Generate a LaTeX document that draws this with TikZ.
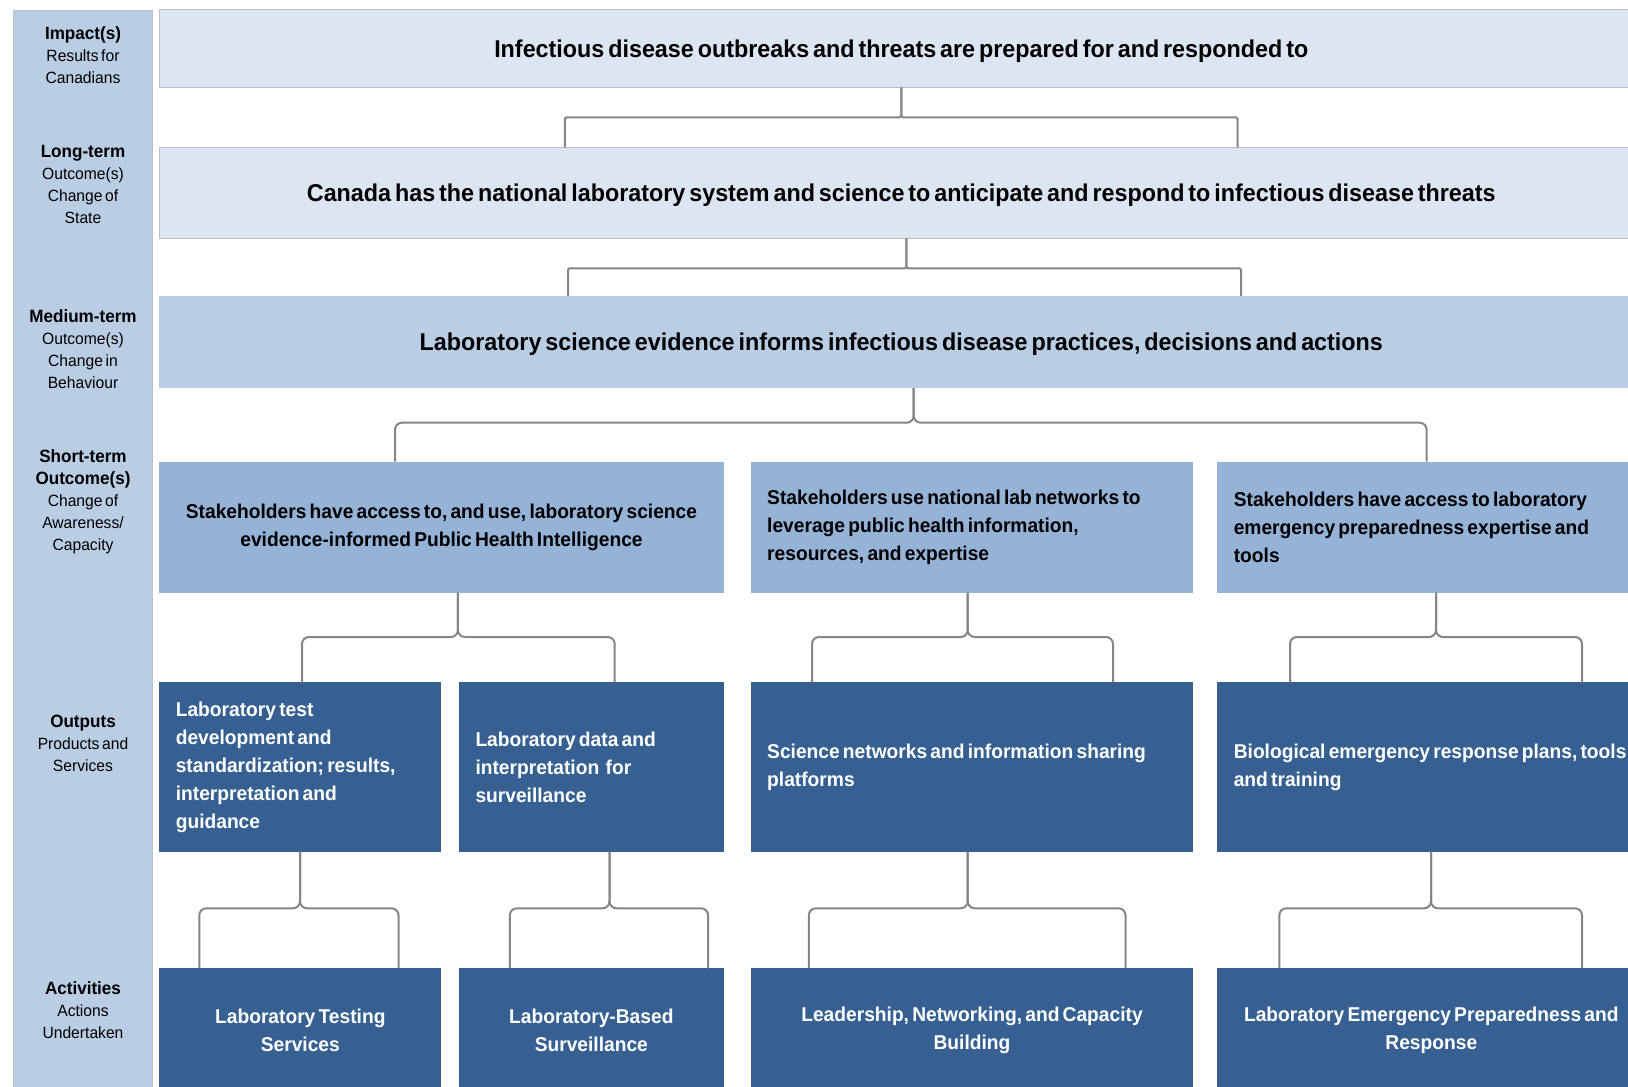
\documentclass[tikz,border=0pt]{standalone}
\usepackage{fontspec}
\setmainfont{Liberation Sans}[FakeStretch=0.96,WordSpace=0.6]
\usepackage{tikz}
\usetikzlibrary{calc}

\definecolor{paleblue}{HTML}{DCE6F2}
\definecolor{softblue}{HTML}{B9CDE5}
\definecolor{midblue}{HTML}{95B3D7}
\definecolor{deepblue}{HTML}{376092}
\definecolor{edgegray}{HTML}{BFBFBF}
\definecolor{linkgray}{HTML}{858585}

\newcommand{\hd}[1]{{\fontsize{17.8}{24}\selectfont\bfseries #1}}
% bracket from one box to two feet below it
\newcommand{\fork}[8]{%
  \draw[link,rounded corners=#8pt] (#2,0 |- #1.south) -- (#2,#3) -- (#5,#3) -- (#5,0 |- #4.north);
  \draw[link,rounded corners=#8pt] (#2,0 |- #1.south) -- (#2,#3) -- (#7,#3) -- (#7,0 |- #6.north);}

\begin{document}
\begin{tikzpicture}[x=1pt,y=-1pt,
  tier/.style={rectangle,anchor=north west,inner sep=0pt,outer sep=0pt},
  impbox/.style={tier,fill=paleblue,draw=edgegray,line width=0.8pt,font=\bfseries\fontsize{24.3}{28}\selectfont},
  medbox/.style={tier,fill=softblue,font=\bfseries\fontsize{24.3}{28}\selectfont},
  stbox/.style={tier,fill=midblue,font=\bfseries\fontsize{20}{28}\selectfont},
  outbox/.style={tier,fill=deepblue,text=white,font=\bfseries\fontsize{20}{28}\selectfont},
  tag/.style={align=center,font=\fontsize{16.3}{22}\selectfont},
  link/.style={draw=linkgray,line width=2pt}]
  \useasboundingbox (0,0) rectangle (1628,1087);
  \clip (0,0) rectangle (1628,1087);

  % side column
  \draw[fill=softblue,draw=edgegray,line width=0.8pt] (13.3,10) rectangle (152.7,1100);
  \node[tag] (tgimp) at (83,55) {\hd{Impact(s)}\\Results for\\Canadians};
  \node[tag] (tglt) at (83,184) {\hd{Long-term}\\Outcome(s)\\Change of\\State};
  \node[tag] (tgmed) at (83,349) {\hd{Medium-term}\\Outcome(s)\\Change in\\Behaviour};
  \node[tag] (tgst) at (83,502) {\hd{Short-term}\\\hd{Outcome(s)}\\Change of\\Awareness/\\Capacity};
  \node[tag] (tgop) at (83,743) {\hd{Outputs}\\Products and\\Services};
  \node[tag] (tgac) at (83,1010) {\hd{Activities}\\Actions\\Undertaken};

  % outcomes
  \node[impbox,minimum width=1484pt,minimum height=78pt,text depth=-6pt] (imp) at (159.3,9.3)
    {Infectious disease outbreaks and threats are prepared for and responded to};
  \node[impbox,minimum width=1484pt,minimum height=91pt,text depth=-3pt] (lt) at (159.3,147.3)
    {Canada has the national laboratory system and science to anticipate and respond to infectious disease threats};
  \node[medbox,minimum width=1484pt,minimum height=92pt,text depth=-4pt] (med) at (159.3,296)
    {Laboratory science evidence informs infectious disease practices, decisions and actions};

  \node[stbox,align=center,minimum width=564.4pt,minimum height=131pt] (st1) at (159.3,461.7)
    {Stakeholders have access to, and use, laboratory science\\evidence-informed Public Health Intelligence};
  \node[stbox,align=flush left,inner xsep=16.5pt,text width=409.6pt,minimum width=442.6pt,minimum height=131pt] (st2) at (750.7,461.7)
    {Stakeholders use national lab networks to\\leverage public health information,\\resources, and expertise};
  \node[stbox,align=flush left,inner xsep=16.5pt,text width=395pt,minimum width=428pt,minimum height=131pt] (st3) at (1217.3,461.7)
    {Stakeholders have access to laboratory\\emergency preparedness expertise and\\tools};

  % outputs
  \node[outbox,align=flush left,inner xsep=16.5pt,text width=249pt,minimum width=282pt,minimum height=169.4pt] (op1) at (159.3,682.3)
    {Laboratory test\\development and\\standardization; results,\\interpretation and\\guidance};
  \node[outbox,align=flush left,inner xsep=16.5pt,text width=231.7pt,minimum width=264.7pt,minimum height=169.4pt] (op2) at (459,682.3)
    {Laboratory data and\\interpretation~ for\\surveillance};
  \node[outbox,align=flush left,inner xsep=16.5pt,text width=409.6pt,minimum width=442.6pt,minimum height=169.4pt] (op3) at (750.7,682.3)
    {Science networks and information sharing\\platforms};
  \node[outbox,align=flush left,inner xsep=16.5pt,text width=430pt,minimum width=463pt,minimum height=169.4pt] (op4) at (1217.3,682.3)
    {Biological emergency response plans, tools\\and training};

  % activities
  \node[outbox,align=center,minimum width=282pt,minimum height=125pt] (ac1) at (159.3,968.3)
    {Laboratory Testing\\Services};
  \node[outbox,align=center,minimum width=264.7pt,minimum height=125pt] (ac2) at (459,968.3)
    {Laboratory-Based\\Surveillance};
  \node[outbox,align=center,minimum width=442.6pt,minimum height=125pt] (ac3) at (750.7,968.3)
    {Leadership, Networking, and Capacity\\Building};
  \node[outbox,align=center,minimum width=428pt,minimum height=125pt] (ac4) at (1217.3,968.3)
    {Laboratory Emergency Preparedness and\\Response};

  % brackets
  \fork{imp}{901.3}{117.3}{lt}{564.8}{lt}{1237.5}{1.5}
  \fork{lt}{906.4}{268.3}{med}{568}{med}{1241}{1.5}
  \fork{med}{913.7}{422.7}{st1}{395}{st3}{1426.6}{7}
  \fork{st1}{457.9}{637}{op1}{302}{op2}{614.7}{7}
  \fork{st2}{967.7}{637}{op3}{812}{op3}{1113}{7}
  \fork{st3}{1436}{637}{op4}{1290}{op4}{1582}{7}
  \fork{op1}{300}{908.3}{ac1}{199.3}{ac1}{398.5}{7}
  \fork{op2}{609.5}{908.3}{ac2}{509.8}{ac2}{708.1}{7}
  \fork{op3}{967.7}{908.3}{ac3}{808.8}{ac3}{1125.5}{7}
  \fork{op4}{1431}{908.3}{ac4}{1279.3}{ac4}{1582}{7}
\end{tikzpicture}
\end{document}
